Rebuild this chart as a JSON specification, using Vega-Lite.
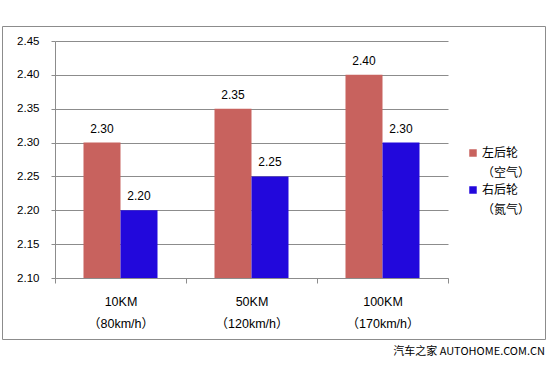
{
  "$schema": "https://vega.github.io/schema/vega-lite/v6.json",
  "width": 543,
  "height": 313,
  "autosize": "none",
  "padding": {"left": 2, "top": 26, "right": 4, "bottom": 26},
  "background": "white",
  "config": {
    "view": {"stroke": "#8c8c8c", "strokeWidth": 1},
    "font": "Liberation Sans",
    "style": {"guide-label": {"lineHeight": 20}}
  },
  "title": {
    "text": "汽车之家 AUTOHOME.COM.CN",
    "orient": "bottom",
    "anchor": "end",
    "frame": "group",
    "offset": 7,
    "font": "Noto Sans CJK SC",
    "fontSize": 11,
    "fontWeight": "normal",
    "color": "#000000"
  },
  "data": {
    "values": [
      {"cat": "10KM\n（80km/h）", "series": "左后轮\n（空气）", "value": 2.30},
      {"cat": "10KM\n（80km/h）", "series": "右后轮\n（氮气）", "value": 2.20},
      {"cat": "50KM\n（120km/h）", "series": "左后轮\n（空气）", "value": 2.35},
      {"cat": "50KM\n（120km/h）", "series": "右后轮\n（氮气）", "value": 2.25},
      {"cat": "100KM\n（170km/h）", "series": "左后轮\n（空气）", "value": 2.40},
      {"cat": "100KM\n（170km/h）", "series": "右后轮\n（氮气）", "value": 2.30}
    ]
  },
  "encoding": {
    "x": {
      "field": "cat",
      "type": "nominal",
      "sort": null,
      "scale": {"range": [53, 446], "paddingInner": 0, "paddingOuter": 0},
      "axis": {
        "title": null,
        "orient": "bottom",
        "offset": -61,
        "labelAngle": 0,
        "tickBand": "extent",
        "tickSize": 5,
        "tickColor": "#8c8c8c",
        "domainColor": "#8c8c8c",
        "labelPadding": 12,
        "labelFont": "Liberation Sans, Noto Sans CJK SC",
        "labelFontSize": 12.5,
        "labelColor": "#000000",
        "labelLineHeight": 22,
        "labelBaseline": "top",
        "labelExpr": "split(datum.label, '\\n')"
      }
    },
    "xOffset": {
      "field": "series",
      "sort": null,
      "scale": {"paddingInner": 0, "paddingOuter": 0.77}
    },
    "y": {
      "field": "value",
      "type": "quantitative",
      "scale": {"domain": [2.1, 2.45], "range": [252, 15], "zero": false, "nice": false},
      "axis": {
        "title": null,
        "offset": -53,
        "values": [2.1, 2.15, 2.2, 2.25, 2.3, 2.35, 2.4, 2.45],
        "format": ".2f",
        "tickSize": 4,
        "tickColor": "#8c8c8c",
        "domainColor": "#8c8c8c",
        "gridColor": "#8c8c8c",
        "gridOpacity": 1,
        "grid": true,
        "labelPadding": 12,
        "labelFontSize": 11.5,
        "labelColor": "#000000"
      }
    }
  },
  "layer": [
    {
      "mark": {"type": "bar"},
      "encoding": {
        "y2": {"datum": 2.1},
        "color": {
          "field": "series",
          "type": "nominal",
          "sort": null,
          "scale": {"range": ["#C8625E", "#2208DC"]},
          "legend": {
            "orient": "none",
            "legendX": 465,
            "legendY": 121,
            "title": null,
            "symbolType": "square",
            "symbolSize": 56,
            "symbolStrokeWidth": 0,
            "labelOffset": 3,
            "labelFont": "Noto Sans CJK SC",
            "labelFontSize": 12,
            "labelColor": "#000000",
            "labelLimit": 200,
            "labelBaseline": "middle",
            "rowPadding": 5,
            "labelExpr": "split(datum.label, '\\n')"
          }
        }
      }
    },
    {
      "mark": {"type": "text", "dy": -14, "fontSize": 12, "color": "#000000"},
      "encoding": {
        "text": {"field": "value", "type": "quantitative", "format": ".2f"}
      }
    }
  ]
}
